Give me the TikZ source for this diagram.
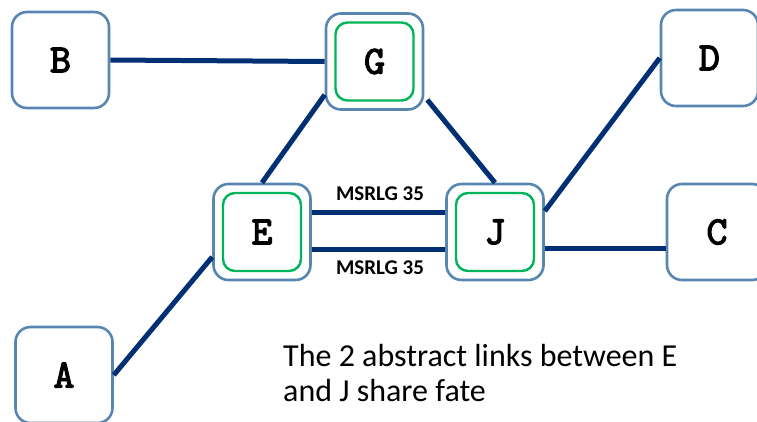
\documentclass[tikz,border=0pt]{standalone}
\usepackage{fontspec}
\setmainfont{Carlito}
\newfontfamily\monof[FakeBold=3]{lmmono10-regular.otf}
\usetikzlibrary{calc}
\definecolor{boxblue}{RGB}{88,134,178}
\definecolor{boxgreen}{RGB}{0,180,90}
\definecolor{navy}{RGB}{0,48,115}
\newcommand{\lettr}[1]{\raisebox{-3pt}{#1}}
\tikzset{
  outerbox/.style={draw=boxblue, line width=2.6pt, rounded corners=15pt, fill=white,
    minimum width=97pt, minimum height=96pt, inner sep=0pt},
  innerbox/.style={draw=boxgreen, line width=2.4pt, rounded corners=12pt,
    minimum width=78pt, minimum height=78pt, inner sep=0pt},
  letter/.style={font=\monof\fontsize{40}{40}\selectfont},
  link/.style={draw=navy, line width=5pt},
  lbl/.style={font=\bfseries\fontsize{21}{21}\selectfont, inner sep=0pt},
  note/.style={font=\fontsize{32}{35}\selectfont, align=left, inner sep=0pt, anchor=north west},
}
\begin{document}
\begin{tikzpicture}[x=1pt,y=-1pt]
\useasboundingbox (0,0) rectangle (757,421);
% plain boxes
\node[outerbox, letter] (B) at (60.5,60) {\lettr{B}};
\node[outerbox, letter] (D) at (709.5,58) {\lettr{D}};
\node[outerbox, letter, minimum width=100pt] (C) at (717,232) {\lettr{C}};
\node[outerbox, letter] (A) at (64,375) {\lettr{A}};
% double boxes
\node[outerbox] (G) at (374.5,61.5) {};
\node[innerbox, letter] (Gi) at (G) {\lettr{G}};
\node[outerbox] (E) at (262,232) {};
\node[innerbox, letter] (Ei) at (E) {\lettr{E}};
\node[outerbox] (J) at (495,232) {};
\node[innerbox, letter] (Ji) at (J) {\lettr{J}};
% links
\draw[link] (B.east) -- (G.west);
\draw[link] ($(G.south west)+(0,-16)$) -- (E.north);
\draw[link] ($(G.south east)+(3,-11)$) -- (J.north);
\draw[link] ($(J.east)+(0,-21)$) -- (D.west);
\draw[link] ($(J.east)+(0,16)$) -- ($(C.west)+(0,16)$);
\draw[link] (A.east) -- ($(E.west)+(0,25)$);
\draw[link] ($(E.east)+(0,-20)$) -- ($(J.west)+(0,-20)$);
\draw[link] ($(E.east)+(0,17)$) -- ($(J.west)+(0,17)$);
% labels
\node[lbl] (l1) at (380,194) {MSRLG 35};
\node[lbl] (l2) at (380,268) {MSRLG 35};
\node[note] (txt) at (283,344) {The 2 abstract links between E\\and J share fate};
\end{tikzpicture}
\end{document}
